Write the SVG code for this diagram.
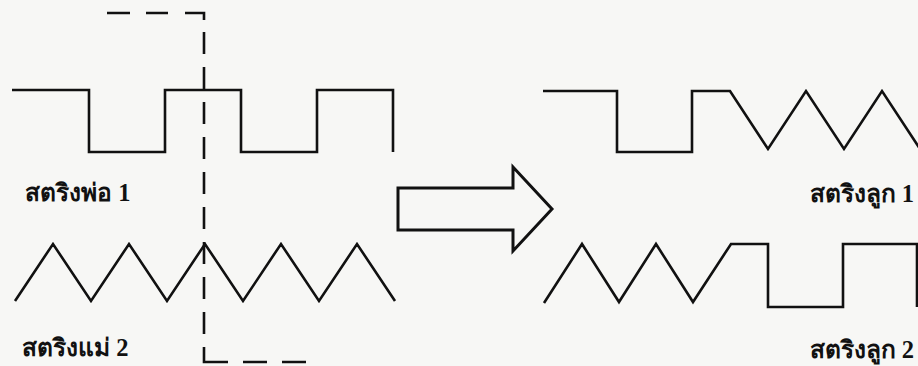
<svg xmlns="http://www.w3.org/2000/svg" width="918" height="366" viewBox="0 0 918 366">
<style>
.w{fill:none;stroke:#111;stroke-width:2.6;stroke-linejoin:miter;stroke-linecap:butt}
.d{fill:none;stroke:#111;stroke-width:2.6}
.t{font-family:"Liberation Serif","DejaVu Serif","Noto Sans",serif;font-weight:bold;font-size:24.5px;fill:#111}
.r{text-anchor:end}
</style>
<rect width="918" height="366" fill="#f7f7f5"/>
<g id="parent1">
<path class="w" d="M12,90 H89 V152 H165 V90 H241 V152 H317 V90 H393 V152"/>
<text class="t" x="25" y="201">สตริงพ่อ 1</text>
</g>
<g id="parent2">
<path class="w" d="M15,301 L53,244 L91,301 L129,244 L167,301 L205,244 L243,301 L281,244 L319,301 L357,244 L395,301"/>
<text class="t" x="22" y="356">สตริงแม่ 2</text>
</g>
<g id="cutline">
<path class="d" d="M107,13 H130 M146,13 H168 M185,13 H204 V20 M204,32 V54 M204,67 V89 M204,102 V124 M204,137 V159 M204,172 V194 M204,207 V229 M204,242 V264 M204,277 V299 M204,312 V334 M204,347 V362 H228 M243,362 H267 M282,362 H306"/>
</g>
<g id="arrow">
<polygon points="398,188 513,188 513,167 552,209 513,251 513,230 398,230" fill="none" stroke="#111" stroke-width="3" stroke-linejoin="miter"/>
</g>
<g id="child1">
<path class="w" d="M543,91 H617 V152 H692 V91 H730 L768,149 L806,91 L844,149 L882,91 L920,149"/>
<text class="t r" x="914" y="202">สตริงลูก 1</text>
</g>
<g id="child2">
<path class="w" d="M544,303 L582,244 L619,302 L656,244 L693,302 L731,244 H768 V307 H843 V244 H917 V307"/>
<text class="t r" x="914" y="358">สตริงลูก 2</text>
</g>
</svg>
